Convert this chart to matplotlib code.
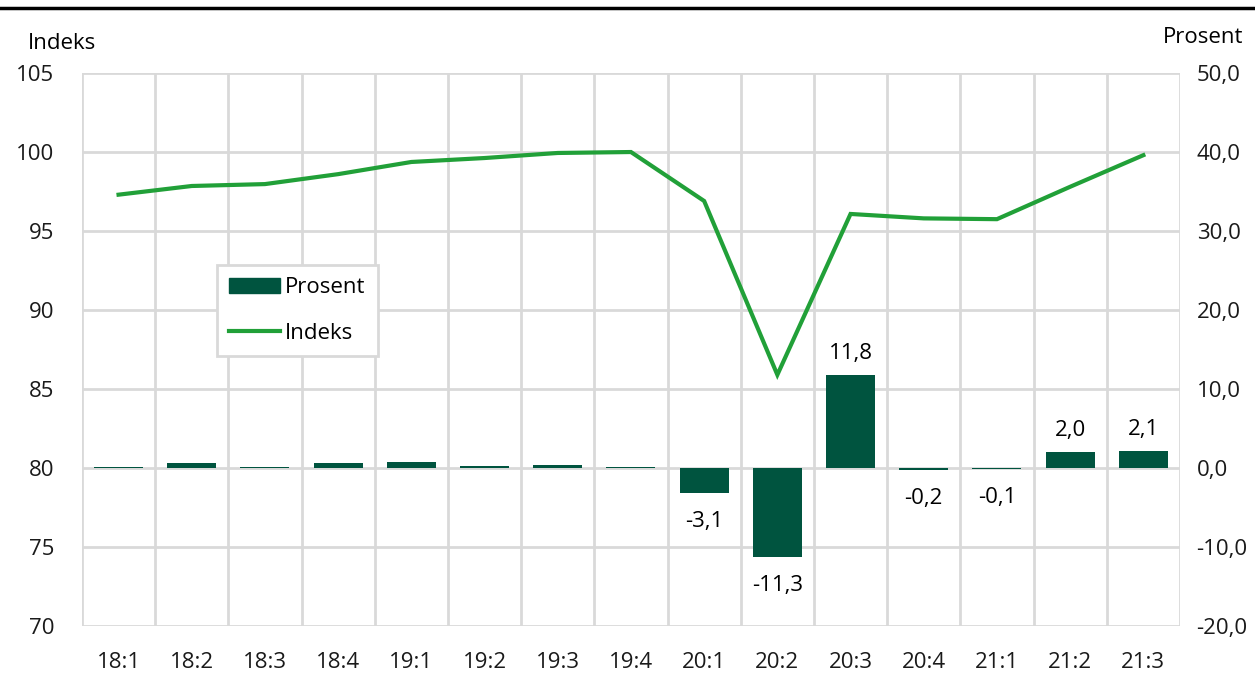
import numpy as np
import matplotlib.pyplot as plt
from matplotlib.lines import Line2D
from matplotlib.patches import Patch

# -- Data ---------------------------------------------------------------------
quarters = ["18:1", "18:2", "18:3", "18:4", "19:1", "19:2", "19:3", "19:4",
            "20:1", "20:2", "20:3", "20:4", "21:1", "21:2", "21:3"]
indeks = [97.3, 97.85, 97.97, 98.6, 99.37, 99.62, 99.94, 100.0,
          96.9, 85.9, 96.08, 95.8, 95.75, 97.8, 99.8]
prosent = [0.1, 0.6, 0.15, 0.6, 0.75, 0.25, 0.35, 0.1,
           -3.1, -11.3, 11.8, -0.2, -0.1, 2.0, 2.1]
labelled = [False] * 8 + [True] * 7

bar_color = "#00543F"
line_color = "#21A038"
grid_color = "#D9D9D9"

plt.rcParams['font.family'] = ['Open Sans', 'DejaVu Sans']
plt.rcParams['font.size'] = 16

fig = plt.figure(figsize=(12.55, 6.73), dpi=100)
ax = fig.add_axes([0.0653, 0.0698, 0.8749, 0.8217])
ax2 = ax.twinx()

x = np.arange(len(quarters))

# bars on the right axis, line on the left axis (kept on top)
ax2.bar(x, prosent, width=0.67, color=bar_color, zorder=2)
ax.plot(x, indeks, color=line_color, lw=3, zorder=3, solid_joinstyle='miter')
ax.set_zorder(ax2.get_zorder() + 1)
ax.patch.set_visible(False)

for xi, v, show in zip(x, prosent, labelled):
    if not show:
        continue
    txt = f"{v:.1f}".replace(".", ",")
    if v >= 0:
        ax2.annotate(txt, (xi, v), xytext=(0, 8), textcoords='offset points',
                     ha='center', va='bottom')
    else:
        ax2.annotate(txt, (xi, v), xytext=(0, -13), textcoords='offset points',
                     ha='center', va='top')

# axes
ax.set_xlim(-0.5, len(quarters) - 0.5)
ax.set_ylim(70, 105)
ax.set_yticks(np.arange(70, 106, 5))
ax2.set_ylim(-20, 50)
ax2.set_yticks(np.arange(-20, 51, 10))
ax2.set_yticklabels([f"{t:.1f}".replace(".", ",") for t in np.arange(-20, 51, 10)])

ax.set_xticks(x)
ax.set_xticklabels(quarters)

# background grid drawn on ax2 (behind everything)
for yv in np.arange(-20, 51, 10):
    ax2.axhline(yv, color=grid_color, lw=2, zorder=0)
for xv in np.arange(-0.5, len(quarters), 1):
    ax2.axvline(xv, color=grid_color, lw=2, zorder=0)

for a in (ax, ax2):
    for s in a.spines.values():
        s.set_visible(False)
    a.tick_params(which='both', length=0, colors='#1a1a1a')
ax.tick_params(axis='y', pad=20)
ax2.tick_params(axis='y', pad=12)
ax.tick_params(axis='x', pad=19)

fig.text(0.022, 0.935, "Indeks", ha='left', va='center')
fig.text(0.991, 0.944, "Prosent", ha='right', va='center')

# top rule
fig.add_artist(Line2D([0, 1], [0.988, 0.988], transform=fig.transFigure,
                      color='black', lw=2.5))

handles = [Patch(facecolor=bar_color, edgecolor=bar_color),
           Line2D([0], [0], color=line_color, lw=3)]
leg = ax.legend(handles, ["Prosent", "Indeks"], loc='upper left',
                bbox_to_anchor=(0.123, 0.653), borderaxespad=0,
                fancybox=False, framealpha=1,
                edgecolor=grid_color, handlelength=2.3, handletextpad=0.2,
                labelspacing=1.1, borderpad=0.55)
leg.get_frame().set_linewidth(2)

fig.savefig("out.png", dpi=100)
